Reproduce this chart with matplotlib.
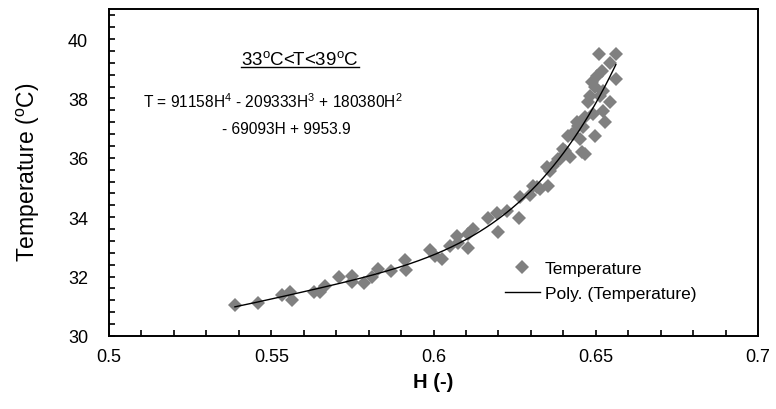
import numpy as np
import matplotlib
matplotlib.use("Agg")
import matplotlib.pyplot as plt
from matplotlib.ticker import MultipleLocator
from matplotlib.lines import Line2D

plt.rcParams['font.family'] = ['Liberation Sans', 'DejaVu Sans']
plt.rcParams['mathtext.fontset'] = 'custom'
plt.rcParams['mathtext.rm'] = 'Liberation Sans'
plt.rcParams['mathtext.it'] = 'Liberation Sans:italic'
plt.rcParams['mathtext.bf'] = 'Liberation Sans:bold'
plt.rcParams['mathtext.default'] = 'regular'

H = [0.5388, 0.5459, 0.5533, 0.5558, 0.5564, 0.5632, 0.5650, 0.5666, 0.5709, 0.5749,
     0.5749, 0.5786, 0.5810, 0.5829, 0.5869, 0.5912, 0.5915, 0.5989, 0.6005, 0.6026,
     0.6051, 0.6072, 0.6076, 0.6106, 0.6106, 0.6122, 0.6168, 0.6196, 0.6199, 0.6227,
     0.6263, 0.6267, 0.6297, 0.6307, 0.6319, 0.6328, 0.6353, 0.6359, 0.6350, 0.6368,
     0.6384, 0.6390, 0.6405, 0.6399, 0.6415, 0.6427, 0.6445, 0.6458, 0.6421, 0.6430,
     0.6442, 0.6451, 0.6461, 0.6467, 0.6467, 0.6476, 0.6482, 0.6488, 0.6492, 0.6498,
     0.6498, 0.6504, 0.6510, 0.6513, 0.6519, 0.6522, 0.6522, 0.6529, 0.6544, 0.6544,
     0.6562, 0.6562]
T = [31.04, 31.11, 31.38, 31.48, 31.21, 31.48, 31.48, 31.68, 31.99, 32.02,
     31.82, 31.78, 31.99, 32.26, 32.19, 32.56, 32.22, 32.90, 32.69, 32.59,
     33.03, 33.37, 33.13, 33.43, 32.96, 33.60, 33.97, 34.14, 33.50, 34.21,
     33.97, 34.68, 34.75, 35.05, 35.02, 34.95, 35.05, 35.56, 35.69, 35.72,
     35.96, 35.96, 36.23, 36.30, 36.73, 36.80, 37.07, 36.20, 36.03, 36.80,
     37.21, 36.63, 37.04, 37.37, 36.13, 37.88, 38.08, 38.55, 37.47, 36.73,
     38.38, 38.75, 39.49, 38.08, 38.92, 38.25, 37.58, 37.21, 37.88, 39.19,
     39.49, 38.65]

range_label = r"33$^{o}$C<T<39$^{o}$C"
eq_line1 = r"T = 91158H$^{4}$ - 209333H$^{3}$ + 180380H$^{2}$"
eq_line2 = "- 69093H + 9953.9"

fig = plt.figure(figsize=(7.76, 4.10), dpi=100)
ax = fig.add_axes([109/776, 73/410, (758-109)/776, (337-10.3)/410])

ax.plot(H, T, linestyle='none', marker='D', ms=6.8, color='#808080',
        markeredgewidth=0, label='Temperature')
coef = np.polyfit(H, T, 4)
hx = np.linspace(min(H), max(H), 300)
ax.plot(hx, np.polyval(coef, hx), color='black', lw=1.0, label='Poly. (Temperature)')

ax.set_xlim(0.5, 0.7)
ax.set_ylim(30, 41)
ax.xaxis.set_minor_locator(MultipleLocator(0.01))
ax.yaxis.set_minor_locator(MultipleLocator(0.4))
ax.set_yticks([30, 32, 34, 36, 38, 40])
ax.set_xticks([0.5, 0.55, 0.6, 0.65, 0.7])
ax.set_xticklabels(['0.5', '0.55', '0.6', '0.65', '0.7'])
ax.tick_params(axis='both', which='both', direction='in', length=4, width=1.2,
               labelsize=13)
ax.tick_params(axis='x', which='both', pad=9)
ax.tick_params(axis='y', which='both', pad=15)
ax.tick_params(top=False, right=False, which='both')
for s in ax.spines.values():
    s.set_linewidth(1.4)

ax.set_xlabel('H (-)', fontsize=14.5, fontweight='bold', labelpad=5)
ax.set_ylabel(r'Temperature ($^{o}$C)', fontsize=16.5)
ax.yaxis.set_label_coords(-0.103, 0.505)

t1 = ax.text(0.5589, 39.33, range_label, fontsize=13.5, ha='center', va='center')
ax.text(0.5105, 37.91, eq_line1, fontsize=11.2, ha='left', va='center')
ax.text(0.5348, 37.0, eq_line2, fontsize=11.2, ha='left', va='center')

leg = ax.legend(loc='upper left', bbox_to_anchor=(0.61, 0.23), frameon=False,
                fontsize=12.5, handlelength=2.0, handletextpad=0.3,
                labelspacing=0.55, borderaxespad=0, borderpad=0)

fig.canvas.draw()
r = fig.canvas.get_renderer()
bb = t1.get_window_extent(renderer=r)
inv = fig.transFigure.inverted()
(x0, y0), (x1, _) = inv.transform([(bb.x0, bb.y0 + 1), (bb.x1, bb.y0)])
fig.add_artist(Line2D([x0, x1], [y0, y0], color='black', lw=1.0,
                      transform=fig.transFigure))

fig.savefig('out.png', dpi=100)
